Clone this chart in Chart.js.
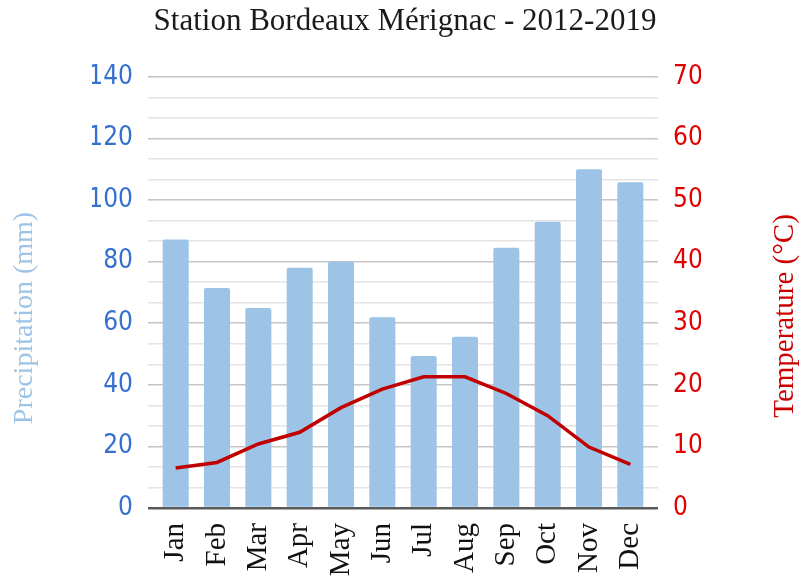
<!DOCTYPE html>
<html>
<head>
<meta charset="utf-8">
<script src="https://cdn.jsdelivr.net/npm/chart.js@4/dist/chart.umd.min.js"></script>
<style>
html,body{margin:0;padding:0;background:#fff;}
#wrap{width:799px;height:579px;position:relative;}
</style>
</head>
<body>
<div id="wrap"><canvas id="c" width="799" height="579"></canvas></div>
<script>
const chartTitle = "Station Bordeaux Mérignac - 2012-2019";
const months = ["Jan","Feb","Mar","Apr","May","Jun","Jul","Aug","Sep","Oct","Nov","Dec"];
const precipitation = [87.2, 71.5, 65, 78, 80, 62, 49.4, 55.6, 84.5, 93, 110, 105.8];
const temperature = [6.5, 7.4, 10.4, 12.3, 16.3, 19.3, 21.3, 21.3, 18.6, 15.0, 9.9, 7.1];
const precipTicks = [0, 20, 40, 60, 80, 100, 120, 140];
const tempTicks = [0, 10, 20, 30, 40, 50, 60, 70];
const leftTitle = "Precipitation (mm)";
const rightTitle = "Temperature (°C)";

const SERIF = "'Liberation Serif', 'DejaVu Serif', serif";
const NUMF = "'Liberation Sans Narrow', 'DejaVu Sans Condensed', sans-serif";

function isMajor(v, step){ const r = v/step; return Math.abs(r - Math.round(r)) < 1e-6; }
function gridColor(step){
  return ctx => {
    const v = ctx.tick ? ctx.tick.value : 0;
    if (Math.abs(v) < 1e-6) return '#5a5a5a';
    return isMajor(v, step) ? '#c6c6c6' : '#e4e4e4';
  };
}
function gridWidth(ctx){
  const v = ctx.tick ? ctx.tick.value : 0;
  return Math.abs(v) < 1e-6 ? 2.5 : 1.6;
}

const textPlugin = {
  id: 'texts',
  afterDraw(chart){
    const c = chart.ctx;
    c.save();
    c.fillStyle = '#1a1a1a';
    c.font = "31px " + SERIF;
    c.textAlign = 'center';
    c.textBaseline = 'middle';
    c.fillText(chartTitle, 405, 22);
    // left axis title
    c.save();
    c.translate(25, 318);
    c.rotate(-Math.PI/2);
    c.fillStyle = '#9dc3e6';
    c.font = "28px " + SERIF;
    c.fillText(leftTitle, 0, 0);
    c.restore();
    // right axis title
    c.save();
    c.translate(785, 316);
    c.rotate(-Math.PI/2);
    c.fillStyle = '#cc0000';
    c.font = "29px " + SERIF;
    c.fillText(rightTitle, 0, 0);
    c.restore();
    c.restore();
  }
};

new Chart(document.getElementById('c'), {
  type: 'bar',
  data: {
    labels: months,
    datasets: [
      {
        type: 'line',
        label: 'Temperature',
        data: temperature,
        yAxisID: 'yT',
        borderColor: '#c00000',
        backgroundColor: '#c00000',
        borderWidth: 3.5,
        pointRadius: 0,
        tension: 0,
        order: 0
      },
      {
        type: 'bar',
        label: 'Precipitation',
        data: precipitation,
        yAxisID: 'yP',
        backgroundColor: '#9dc3e6',
        borderWidth: 0,
        borderRadius: 2,
        borderSkipped: 'bottom',
        categoryPercentage: 1,
        barPercentage: 0.63,
        order: 1
      }
    ]
  },
  options: {
    responsive: false,
    animation: false,
    events: [],
    layout: { padding: { left: 92, right: 98, top: 77, bottom: 0 } },
    plugins: { legend: { display: false }, tooltip: { enabled: false }, title: { display: false } },
    scales: {
      x: {
        grid: { display: false, drawTicks: false },
        border: { display: false },
        ticks: {
          minRotation: 90, maxRotation: 90, padding: 15,
          color: '#111', font: { family: SERIF, size: 29 }
        },
        afterFit(s){ s.height = 71; }
      },
      yP: {
        position: 'left',
        min: 0, max: 140,
        grid: { color: gridColor(20), lineWidth: gridWidth, drawTicks: true, tickLength: 7 },
        border: { display: false },
        ticks: {
          stepSize: 20/3, padding: 15, color: '#3470d0',
          font: { family: NUMF, size: 26 },
          autoSkip: false,
          callback: v => { const r = Math.round(v); return (isMajor(v, 20) && precipTicks.includes(r)) ? String(r) : ''; }
        },
        afterFit(s){ s.width = 63; }
      },
      yT: {
        position: 'right',
        min: 0, max: 70,
        grid: { drawOnChartArea: false, color: gridColor(10), lineWidth: gridWidth, drawTicks: true, tickLength: 7 },
        border: { display: false },
        ticks: {
          stepSize: 10/3, padding: 15, color: '#e00000',
          font: { family: NUMF, size: 26 },
          autoSkip: false,
          callback: v => { const r = Math.round(v); return (isMajor(v, 10) && tempTicks.includes(r)) ? String(r) : ''; }
        },
        afterFit(s){ s.width = 50; }
      }
    }
  },
  plugins: [textPlugin]
});
</script>
</body>
</html>
